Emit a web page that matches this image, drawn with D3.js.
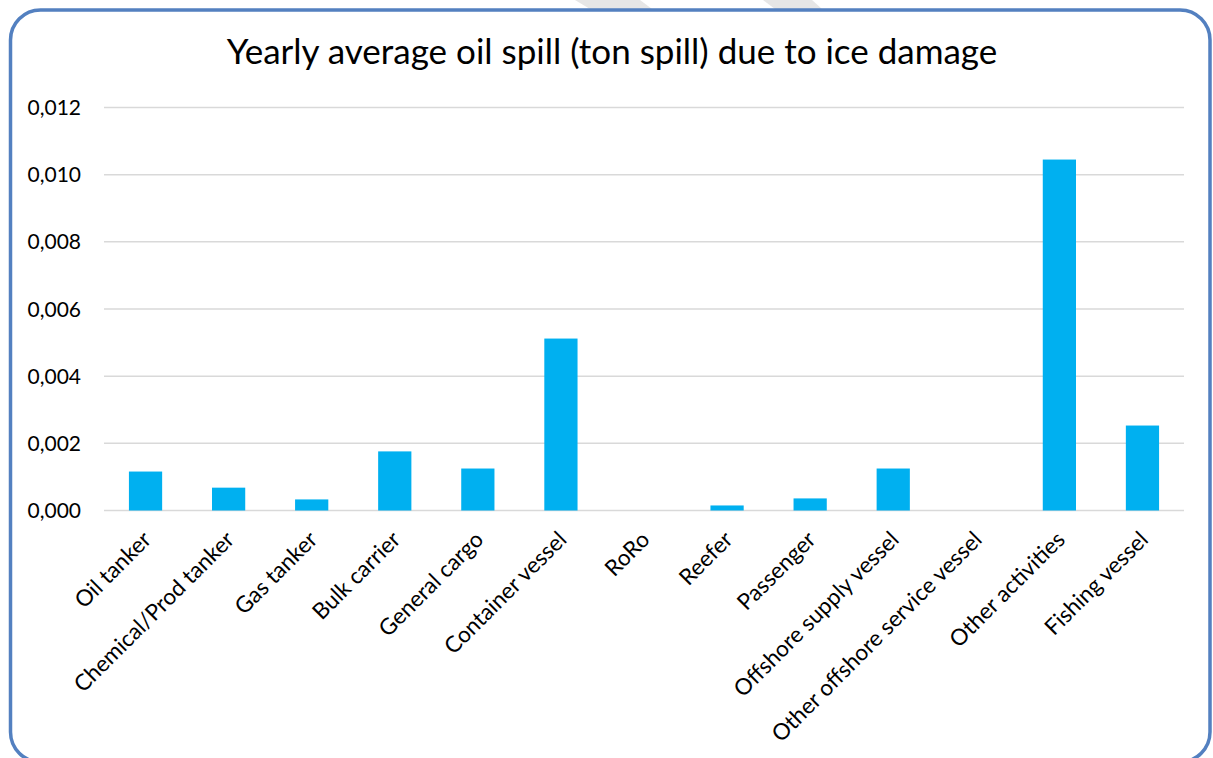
<!DOCTYPE html>
<html>
<head>
<meta charset="utf-8">
<script src="https://cdn.jsdelivr.net/npm/d3@7/dist/d3.min.js"></script>
<style>
  html, body { margin: 0; padding: 0; background: #ffffff; }
  svg { display: block; font-family: Lato, "Open Sans", sans-serif; }
</style>
</head>
<body>
<svg id="chart" width="1213" height="758"></svg>
<script>
// Vessel categories along the x axis
const categories = [
  "Oil tanker", "Chemical/Prod tanker", "Gas tanker", "Bulk carrier",
  "General cargo", "Container vessel", "RoRo", "Reefer", "Passenger",
  "Offshore supply vessel", "Other offshore service vessel",
  "Other activities", "Fishing vessel"
];
// Yearly average oil spill (tons) per category
const spillValues = [
  0.00116, 0.00068, 0.00033, 0.00176, 0.00125, 0.00512, 0.0,
  0.00015, 0.00036, 0.00125, 0.0, 0.01045, 0.00253
];
// Y axis ticks
const yTicks = [0, 0.002, 0.004, 0.006, 0.008, 0.010, 0.012];
const titleText = "Yearly average oil spill (ton spill) due to ice damage";

const svg = d3.select("#chart");

// faint decorative stripes above the frame
const stripes = [
  [[575, 0], [640, 0], [652, 9], [590, 9]],
  [[763, 0], [812, 0], [822, 9], [775, 9]]
];
svg.selectAll("polygon.stripe").data(stripes).join("polygon")
  .attr("class", "stripe")
  .attr("points", d => d.map(p => p.join(",")).join(" "))
  .attr("fill", "#e6e6e6");

// rounded frame
svg.append("rect")
  .attr("x", 10.5).attr("y", 10)
  .attr("width", 1199.5).attr("height", 752)
  .attr("rx", 30).attr("ry", 30)
  .attr("fill", "#ffffff")
  .attr("stroke", "#5380c0")
  .attr("stroke-width", 3.5);

const plot = { left: 104, right: 1184, top: 107.5, bottom: 510.5 };

const x = d3.scaleBand()
  .domain(categories)
  .range([plot.left, plot.right])
  .paddingInner(0.6)
  .paddingOuter(0.3);

const y = d3.scaleLinear()
  .domain([0, 0.012])
  .range([plot.bottom, plot.top]);

// gridlines
svg.append("g")
  .selectAll("line")
  .data(yTicks)
  .join("line")
  .attr("x1", plot.left).attr("x2", plot.right)
  .attr("y1", d => y(d)).attr("y2", d => y(d))
  .attr("stroke", "#d9d9d9")
  .attr("stroke-width", 1.5);

// y tick labels with comma decimals
const fmt = d => d3.format(".3f")(d).replace(".", ",");
svg.append("g")
  .selectAll("text")
  .data(yTicks)
  .join("text")
  .attr("x", 81)
  .attr("y", d => y(d))
  .attr("dy", "0.36em")
  .attr("text-anchor", "end")
  .attr("font-size", 21)
  .attr("fill", "#000")
  .text(fmt);

// bars
svg.append("g")
  .selectAll("rect")
  .data(categories.map((c, i) => ({ c, v: spillValues[i] })))
  .join("rect")
  .attr("x", d => x(d.c))
  .attr("width", x.bandwidth())
  .attr("y", d => y(d.v))
  .attr("height", d => y(0) - y(d.v))
  .attr("fill", "#00b0f0");

// category labels rotated 45 degrees
const cx = c => x(c) + x.bandwidth() / 2;
svg.append("g")
  .selectAll("text")
  .data(categories)
  .join("text")
  .attr("transform", d => `translate(${cx(d) + 7},${541}) rotate(-45)`)
  .attr("text-anchor", "end")
  .attr("font-size", 22.5)
  .attr("fill", "#000")
  .text(d => d);

// title
svg.append("text")
  .attr("x", 612)
  .attr("y", 64)
  .attr("text-anchor", "middle")
  .attr("font-size", 35)
  .attr("fill", "#000")
  .text(titleText);
</script>
</body>
</html>
